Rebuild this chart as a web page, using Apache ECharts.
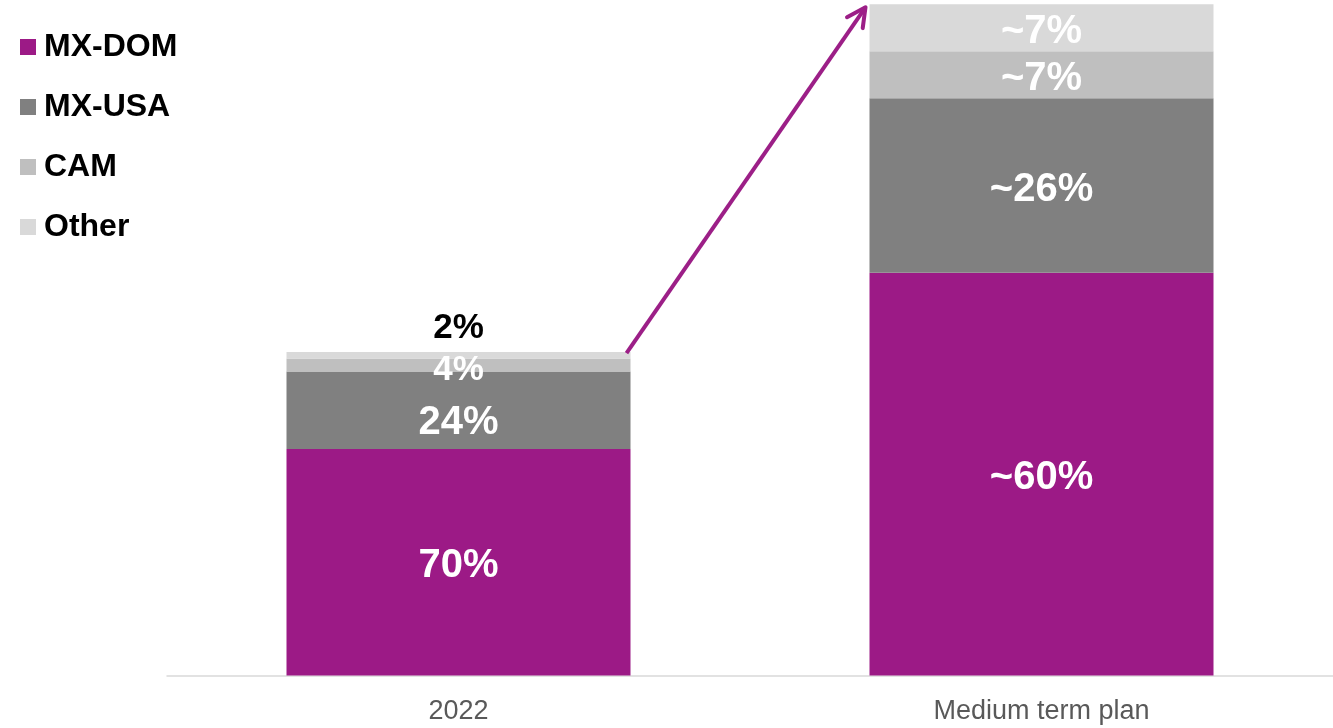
<!DOCTYPE html>
<html>
<head>
<meta charset="utf-8">
<script src="https://cdn.jsdelivr.net/npm/echarts@6/dist/echarts.min.js"></script>
<style>
  html, body { margin: 0; padding: 0; background: #fff; }
  #chart { width: 1333px; height: 728px; }
</style>
</head>
<body>
<div id="chart"></div>
<script>
// Revenue mix by segment: today vs. medium term plan
const categories = ['2022', 'Medium term plan'];
// relative size of each bar (2022 = 100)
const barTotals = [100, 207.5];
// segment shares of each bar, in %
const mxDom = [70, 60];
const mxUsa = [24, 26];
const cam = [4, 7];
const other = [2, 7];
// prefix shown before each bar's shares
const approxMark = ['', '~'];

const FONT = '"Liberation Sans", Arial, Helvetica, sans-serif';
const BAR_WIDTH = 344;

const segments = [
  { name: 'MX-DOM', shares: mxDom, color: '#9C1A86' },
  { name: 'MX-USA', shares: mxUsa, color: '#808080' },
  { name: 'CAM', shares: cam, color: '#BFBFBF' },
  { name: 'Other', shares: other, color: '#D9D9D9' }
];

function labelStyleFor(segName, idx) {
  // small slices of the first bar get a smaller label; the top one sits above the bar
  if (idx === 0 && segName === 'Other') {
    return { position: 'top', distance: 6, offset: [0, 0], color: '#000', fontSize: 35 };
  }
  if (idx === 0 && segName === 'CAM') {
    return { fontSize: 35, offset: [0, 5] };
  }
  if (idx === 0 && segName === 'MX-USA') {
    return { offset: [0, 13] };
  }
  return {};
}

const series = segments.map(seg => ({
  name: seg.name,
  type: 'bar',
  stack: 'total',
  barWidth: BAR_WIDTH,
  itemStyle: { color: seg.color },
  label: {
    show: true,
    position: 'inside',
    offset: [0, 4],
    color: '#fff',
    fontFamily: FONT,
    fontWeight: 'bold',
    fontSize: 40,
    formatter: p => approxMark[p.dataIndex] + seg.shares[p.dataIndex] + '%'
  },
  data: seg.shares.map((s, i) => ({
    value: s * barTotals[i] / 100,
    label: labelStyleFor(seg.name, i)
  }))
}));

const chart = echarts.init(document.getElementById('chart'), null, { renderer: 'canvas' });

chart.setOption({
  animation: false,
  backgroundColor: '#fff',
  legend: {
    orient: 'vertical',
    left: 15,
    top: 26,
    icon: 'rect',
    itemWidth: 16,
    itemHeight: 16,
    itemGap: 28,
    selectedMode: false,
    textStyle: {
      fontFamily: FONT,
      fontWeight: 'bold',
      fontSize: 32,
      lineHeight: 32,
      color: '#000',
      padding: [0, 0, 0, 3]
    },
    data: segments.map(s => s.name)
  },
  grid: { left: 167, width: 1169, top: 4.3, bottom: 52.5 },
  xAxis: {
    type: 'category',
    data: categories,
    axisLine: { lineStyle: { color: '#d9d9d9', width: 1.5 } },
    axisTick: { show: false },
    axisLabel: { fontFamily: FONT, fontSize: 27, color: '#595959', margin: 23 }
  },
  yAxis: {
    type: 'value',
    min: 0,
    max: Math.max(...barTotals),
    show: false,
    splitLine: { show: false }
  },
  series: series
});

// growth arrow from the top of the first bar to the top of the second
const p0 = chart.convertToPixel({ xAxisIndex: 0, yAxisIndex: 0 }, [0, barTotals[0]]);
const p1 = chart.convertToPixel({ xAxisIndex: 0, yAxisIndex: 0 }, [1, barTotals[1]]);
const a = [p0[0] + BAR_WIDTH / 2 - 4, p0[1] + 1];
const b = [p1[0] - BAR_WIDTH / 2 - 4, p1[1] + 3];
const ux = b[0] - a[0], uy = b[1] - a[1];
const headLen = 21, headAng = 27 * Math.PI / 180;
const back = Math.atan2(-uy, -ux);
const h1 = [b[0] + headLen * Math.cos(back + headAng), b[1] + headLen * Math.sin(back + headAng)];
const h2 = [b[0] + headLen * Math.cos(back - headAng), b[1] + headLen * Math.sin(back - headAng)];
const arrowColor = '#9C1F87';

chart.setOption({
  graphic: [
    {
      type: 'line',
      shape: { x1: a[0], y1: a[1], x2: b[0], y2: b[1] },
      style: { stroke: arrowColor, lineWidth: 4, lineCap: 'butt' },
      z: 10
    },
    {
      type: 'polyline',
      shape: { points: [h1, b, h2] },
      style: { stroke: arrowColor, lineWidth: 4, lineCap: 'round', lineJoin: 'round', fill: null },
      z: 10
    }
  ]
});
</script>
</body>
</html>
